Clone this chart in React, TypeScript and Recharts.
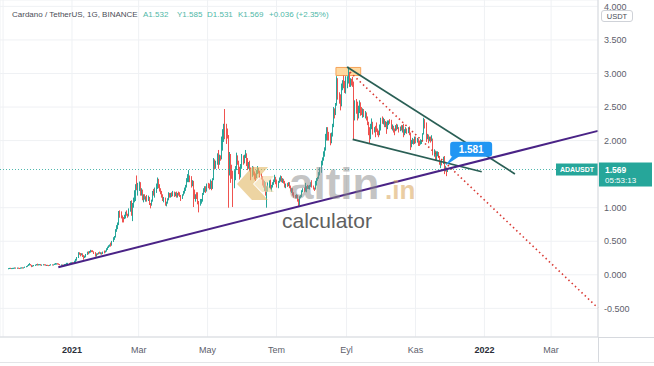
import React from "react";
import {
  ComposedChart,
  Bar,
  XAxis,
  YAxis,
  CartesianGrid,
  ReferenceLine,
  ReferenceArea,
  ReferenceDot,
} from "recharts";

// Daily candles [open, high, low, close], ADA/USDT (Binance).
const nov2020 = [
  [0.093, 0.099, 0.092, 0.0975], [0.0975, 0.103, 0.096, 0.101], [0.101, 0.104, 0.095, 0.0975], [0.0975, 0.101, 0.0965, 0.1],
  [0.1, 0.103, 0.098, 0.1005], [0.1005, 0.104, 0.099, 0.1025], [0.1025, 0.107, 0.1015, 0.1055], [0.1055, 0.106, 0.101, 0.103],
  [0.103, 0.106, 0.101, 0.1045], [0.1045, 0.105, 0.099, 0.101], [0.101, 0.102, 0.098, 0.0995], [0.0995, 0.106, 0.0985, 0.105],
  [0.105, 0.11, 0.103, 0.108], [0.108, 0.112, 0.104, 0.107], [0.107, 0.111, 0.105, 0.109], [0.109, 0.12, 0.108, 0.118],
  [0.118, 0.13, 0.116, 0.127], [0.127, 0.14, 0.123, 0.136], [0.136, 0.158, 0.133, 0.155], [0.155, 0.174, 0.145, 0.156],
  [0.156, 0.16, 0.142, 0.145], [0.145, 0.148, 0.114, 0.129], [0.129, 0.14, 0.126, 0.135], [0.135, 0.146, 0.131, 0.142],
  [0.142, 0.151, 0.139, 0.148], [0.148, 0.16, 0.146, 0.155],
];
const dec2020 = [
  [0.155, 0.166, 0.142, 0.148], [0.148, 0.157, 0.145, 0.155], [0.155, 0.16, 0.15, 0.157], [0.157, 0.158, 0.14, 0.143],
  [0.143, 0.151, 0.141, 0.15], [0.15, 0.156, 0.146, 0.155], [0.155, 0.157, 0.15, 0.152], [0.152, 0.153, 0.141, 0.143],
  [0.143, 0.148, 0.135, 0.147], [0.147, 0.148, 0.14, 0.144], [0.144, 0.145, 0.135, 0.14], [0.14, 0.148, 0.139, 0.147],
  [0.147, 0.155, 0.146, 0.153], [0.153, 0.155, 0.149, 0.152], [0.152, 0.156, 0.15, 0.153], [0.153, 0.165, 0.15, 0.163],
  [0.163, 0.175, 0.156, 0.166], [0.166, 0.17, 0.158, 0.168], [0.168, 0.172, 0.162, 0.165], [0.165, 0.167, 0.155, 0.158],
  [0.158, 0.16, 0.145, 0.148], [0.148, 0.152, 0.141, 0.15], [0.15, 0.151, 0.128, 0.137], [0.137, 0.15, 0.131, 0.148],
  [0.148, 0.16, 0.146, 0.157], [0.157, 0.163, 0.152, 0.16], [0.16, 0.178, 0.158, 0.169], [0.169, 0.178, 0.166, 0.175],
  [0.175, 0.177, 0.167, 0.173], [0.173, 0.183, 0.168, 0.18], [0.18, 0.186, 0.174, 0.181],
];
const jan2021 = [
  [0.181, 0.188, 0.17, 0.175], [0.175, 0.183, 0.168, 0.177], [0.177, 0.21, 0.175, 0.205], [0.205, 0.237, 0.19, 0.223],
  [0.223, 0.265, 0.21, 0.258], [0.258, 0.337, 0.25, 0.32], [0.32, 0.335, 0.3, 0.317], [0.317, 0.325, 0.275, 0.305],
  [0.305, 0.32, 0.29, 0.314], [0.314, 0.318, 0.265, 0.29], [0.29, 0.292, 0.225, 0.268], [0.268, 0.285, 0.25, 0.27],
  [0.27, 0.31, 0.26, 0.302], [0.302, 0.345, 0.298, 0.334], [0.334, 0.35, 0.305, 0.325], [0.325, 0.355, 0.32, 0.348],
  [0.348, 0.372, 0.33, 0.356], [0.356, 0.365, 0.338, 0.352], [0.352, 0.366, 0.34, 0.345], [0.345, 0.348, 0.31, 0.331],
  [0.331, 0.336, 0.27, 0.285], [0.285, 0.318, 0.27, 0.312], [0.312, 0.322, 0.302, 0.31], [0.31, 0.335, 0.305, 0.33],
  [0.33, 0.345, 0.32, 0.325], [0.325, 0.335, 0.305, 0.33], [0.33, 0.332, 0.3, 0.312], [0.312, 0.345, 0.308, 0.341],
  [0.341, 0.362, 0.32, 0.338], [0.338, 0.36, 0.332, 0.357], [0.357, 0.396, 0.345, 0.385],
];
const feb2021 = [
  [0.385, 0.42, 0.37, 0.408], [0.408, 0.44, 0.4, 0.428], [0.428, 0.452, 0.418, 0.445], [0.445, 0.48, 0.42, 0.44],
  [0.44, 0.505, 0.435, 0.498], [0.498, 0.56, 0.49, 0.545], [0.545, 0.578, 0.52, 0.565], [0.565, 0.68, 0.555, 0.668],
  [0.668, 0.74, 0.64, 0.71], [0.71, 0.78, 0.68, 0.76], [0.76, 0.95, 0.74, 0.93], [0.93, 0.96, 0.85, 0.925],
  [0.925, 0.945, 0.84, 0.87], [0.87, 0.885, 0.78, 0.845], [0.845, 0.86, 0.78, 0.835], [0.835, 0.895, 0.83, 0.86],
  [0.86, 0.94, 0.84, 0.925], [0.925, 0.96, 0.88, 0.905], [0.905, 0.91, 0.85, 0.89], [0.89, 0.99, 0.87, 0.96],
  [0.96, 1.1, 0.94, 1.085], [1.085, 1.11, 0.88, 0.93], [0.93, 1.07, 0.8, 1.05], [1.05, 1.15, 1.0, 1.12],
  [1.12, 1.26, 1.08, 1.2], [1.2, 1.35, 1.1, 1.34], [1.34, 1.48, 1.26, 1.33], [1.33, 1.37, 1.18, 1.34],
];
const mar2021 = [
  [1.34, 1.39, 1.25, 1.37], [1.37, 1.38, 1.18, 1.21], [1.21, 1.29, 1.18, 1.26], [1.26, 1.27, 1.11, 1.16],
  [1.16, 1.2, 1.08, 1.18], [1.18, 1.2, 1.12, 1.14], [1.14, 1.17, 1.09, 1.16], [1.16, 1.19, 1.09, 1.12],
  [1.12, 1.18, 1.1, 1.15], [1.15, 1.16, 1.04, 1.06], [1.06, 1.07, 0.99, 1.05], [1.05, 1.12, 1.03, 1.1],
  [1.1, 1.25, 1.09, 1.23], [1.23, 1.28, 1.18, 1.2], [1.2, 1.3, 1.15, 1.28], [1.28, 1.36, 1.22, 1.3],
  [1.3, 1.45, 1.28, 1.38], [1.38, 1.43, 1.29, 1.32], [1.32, 1.35, 1.24, 1.27], [1.27, 1.29, 1.2, 1.23],
  [1.23, 1.25, 1.15, 1.18], [1.18, 1.2, 1.1, 1.12], [1.12, 1.16, 1.08, 1.13], [1.13, 1.15, 1.03, 1.05],
  [1.05, 1.09, 1.02, 1.07], [1.07, 1.14, 1.06, 1.13], [1.13, 1.23, 1.11, 1.2], [1.2, 1.22, 1.15, 1.17],
  [1.17, 1.22, 1.15, 1.2], [1.2, 1.23, 1.16, 1.19], [1.19, 1.25, 1.17, 1.21],
];
const apr2021 = [
  [1.21, 1.24, 1.16, 1.19], [1.19, 1.23, 1.17, 1.2], [1.2, 1.24, 1.15, 1.17], [1.17, 1.22, 1.15, 1.21],
  [1.21, 1.24, 1.18, 1.2], [1.2, 1.23, 1.16, 1.18], [1.18, 1.19, 1.1, 1.14], [1.14, 1.2, 1.13, 1.19],
  [1.19, 1.25, 1.18, 1.24], [1.24, 1.3, 1.21, 1.27], [1.27, 1.34, 1.25, 1.32], [1.32, 1.44, 1.3, 1.42],
  [1.42, 1.5, 1.38, 1.45], [1.45, 1.56, 1.38, 1.46], [1.46, 1.48, 1.38, 1.43], [1.43, 1.47, 1.3, 1.35],
  [1.35, 1.41, 1.32, 1.38], [1.38, 1.4, 1.01, 1.22], [1.22, 1.27, 1.13, 1.16], [1.16, 1.2, 1.09, 1.18],
  [1.18, 1.23, 1.13, 1.14], [1.14, 1.23, 1.05, 1.08], [1.08, 1.1, 0.93, 1.07], [1.07, 1.13, 1.03, 1.09],
  [1.09, 1.13, 1.06, 1.1], [1.1, 1.22, 1.09, 1.21], [1.21, 1.29, 1.19, 1.26], [1.26, 1.32, 1.23, 1.3],
  [1.3, 1.32, 1.22, 1.25], [1.25, 1.36, 1.24, 1.35],
];
const may2021 = [
  [1.35, 1.37, 1.29, 1.34], [1.34, 1.36, 1.27, 1.29], [1.29, 1.42, 1.28, 1.38], [1.38, 1.4, 1.26, 1.29],
  [1.29, 1.44, 1.28, 1.42], [1.42, 1.74, 1.41, 1.68], [1.68, 1.72, 1.57, 1.62], [1.62, 1.7, 1.58, 1.65],
  [1.65, 1.81, 1.64, 1.78], [1.78, 1.86, 1.58, 1.72], [1.72, 1.79, 1.64, 1.76], [1.76, 1.78, 1.7, 1.74],
  [1.74, 2.06, 1.72, 1.88], [1.88, 2.17, 1.85, 2.13], [2.13, 2.25, 1.98, 2.19], [2.19, 2.47, 2.02, 2.15],
  [2.15, 2.25, 1.95, 2.12], [2.12, 2.18, 2.03, 2.08], [2.08, 2.08, 1.0, 1.61], [1.61, 1.83, 1.48, 1.76],
  [1.76, 1.8, 1.37, 1.54], [1.54, 1.64, 1.43, 1.5], [1.5, 1.55, 1.01, 1.34], [1.34, 1.56, 1.29, 1.54],
  [1.54, 1.62, 1.41, 1.6], [1.6, 1.82, 1.56, 1.76], [1.76, 1.78, 1.64, 1.65], [1.65, 1.7, 1.5, 1.55],
  [1.55, 1.61, 1.42, 1.47], [1.47, 1.65, 1.45, 1.64], [1.64, 1.8, 1.58, 1.75],
];
const jun2021 = [
  [1.75, 1.78, 1.64, 1.7], [1.7, 1.79, 1.66, 1.76], [1.76, 1.86, 1.74, 1.8], [1.8, 1.81, 1.62, 1.7],
  [1.7, 1.74, 1.56, 1.6], [1.6, 1.68, 1.58, 1.65], [1.65, 1.7, 1.54, 1.56], [1.56, 1.6, 1.41, 1.54],
  [1.54, 1.62, 1.46, 1.6], [1.6, 1.61, 1.48, 1.52], [1.52, 1.54, 1.42, 1.48], [1.48, 1.51, 1.4, 1.47],
  [1.47, 1.56, 1.44, 1.54], [1.54, 1.62, 1.5, 1.57], [1.57, 1.59, 1.51, 1.53], [1.53, 1.55, 1.45, 1.47],
  [1.47, 1.51, 1.42, 1.46], [1.46, 1.47, 1.33, 1.37], [1.37, 1.42, 1.3, 1.36], [1.36, 1.4, 1.25, 1.37],
  [1.37, 1.38, 1.18, 1.21], [1.21, 1.32, 1.0, 1.28], [1.28, 1.38, 1.24, 1.33], [1.33, 1.41, 1.29, 1.38],
  [1.38, 1.42, 1.27, 1.3], [1.3, 1.34, 1.24, 1.31], [1.31, 1.38, 1.3, 1.37], [1.37, 1.42, 1.34, 1.4],
  [1.4, 1.49, 1.38, 1.45], [1.45, 1.46, 1.35, 1.4],
];
const jul2021 = [
  [1.4, 1.42, 1.3, 1.32], [1.32, 1.4, 1.29, 1.39], [1.39, 1.45, 1.37, 1.42], [1.42, 1.48, 1.39, 1.45],
  [1.45, 1.47, 1.38, 1.4], [1.4, 1.44, 1.37, 1.42], [1.42, 1.43, 1.36, 1.38], [1.38, 1.4, 1.3, 1.33],
  [1.33, 1.36, 1.29, 1.35], [1.35, 1.37, 1.31, 1.33], [1.33, 1.38, 1.32, 1.37], [1.37, 1.38, 1.29, 1.31],
  [1.31, 1.33, 1.24, 1.26], [1.26, 1.29, 1.22, 1.28], [1.28, 1.29, 1.18, 1.2], [1.2, 1.23, 1.15, 1.17],
  [1.17, 1.19, 1.14, 1.16], [1.16, 1.2, 1.14, 1.18], [1.18, 1.19, 1.09, 1.11], [1.11, 1.13, 1.02, 1.05],
  [1.05, 1.17, 1.03, 1.16], [1.16, 1.19, 1.14, 1.17], [1.17, 1.26, 1.16, 1.25], [1.25, 1.29, 1.23, 1.27],
  [1.27, 1.3, 1.23, 1.25], [1.25, 1.37, 1.24, 1.29], [1.29, 1.32, 1.23, 1.31], [1.31, 1.34, 1.28, 1.3],
  [1.3, 1.33, 1.28, 1.31], [1.31, 1.34, 1.27, 1.32], [1.32, 1.38, 1.31, 1.34],
];
const aug2021 = [
  [1.34, 1.41, 1.3, 1.31], [1.31, 1.33, 1.27, 1.29], [1.29, 1.3, 1.25, 1.28], [1.28, 1.4, 1.27, 1.39],
  [1.39, 1.44, 1.33, 1.43], [1.43, 1.46, 1.4, 1.45], [1.45, 1.53, 1.43, 1.51], [1.51, 1.6, 1.48, 1.56],
  [1.56, 1.7, 1.52, 1.68], [1.68, 1.75, 1.63, 1.72], [1.72, 1.84, 1.7, 1.81], [1.81, 1.9, 1.76, 1.86],
  [1.86, 2.1, 1.85, 2.05], [2.05, 2.2, 2.0, 2.15], [2.15, 2.2, 2.0, 2.08], [2.08, 2.13, 2.0, 2.06],
  [2.06, 2.11, 1.93, 1.97], [1.97, 2.12, 1.96, 2.1], [2.1, 2.25, 2.06, 2.23], [2.23, 2.5, 2.2, 2.46],
  [2.46, 2.48, 2.33, 2.4], [2.4, 2.56, 2.38, 2.54], [2.54, 2.96, 2.52, 2.87], [2.87, 2.93, 2.61, 2.7],
  [2.7, 2.72, 2.55, 2.64], [2.64, 2.69, 2.45, 2.53], [2.53, 2.85, 2.51, 2.78], [2.78, 2.9, 2.75, 2.86],
  [2.86, 2.97, 2.78, 2.8], [2.8, 2.89, 2.71, 2.76], [2.76, 2.96, 2.7, 2.9],
];
const sep2021 = [
  [2.9, 2.96, 2.78, 2.92], [2.92, 3.1, 2.85, 2.95], [2.95, 3.02, 2.8, 2.86], [2.86, 2.93, 2.8, 2.88],
  [2.88, 2.92, 2.82, 2.85], [2.85, 2.95, 2.8, 2.82], [2.82, 2.88, 2.02, 2.38], [2.38, 2.6, 2.3, 2.55],
  [2.55, 2.62, 2.4, 2.5], [2.5, 2.58, 2.3, 2.37], [2.37, 2.52, 2.33, 2.5], [2.5, 2.6, 2.41, 2.55],
  [2.55, 2.57, 2.37, 2.45], [2.45, 2.5, 2.38, 2.42], [2.42, 2.48, 2.34, 2.45], [2.45, 2.47, 2.35, 2.37],
  [2.37, 2.44, 2.33, 2.38], [2.38, 2.42, 2.3, 2.32], [2.32, 2.36, 2.23, 2.25], [2.25, 2.28, 2.08, 2.12],
  [2.12, 2.2, 1.96, 2.04], [2.04, 2.25, 2.02, 2.23], [2.23, 2.33, 2.17, 2.27], [2.27, 2.28, 2.09, 2.15],
  [2.15, 2.2, 2.12, 2.18], [2.18, 2.22, 2.05, 2.16], [2.16, 2.27, 2.13, 2.14], [2.14, 2.18, 2.08, 2.1],
  [2.1, 2.15, 2.05, 2.09], [2.09, 2.24, 2.08, 2.22],
];
const oct2021 = [
  [2.22, 2.34, 2.15, 2.33], [2.33, 2.36, 2.25, 2.28], [2.28, 2.34, 2.24, 2.31], [2.31, 2.32, 2.2, 2.24],
  [2.24, 2.29, 2.2, 2.26], [2.26, 2.28, 2.1, 2.19], [2.19, 2.3, 2.17, 2.27], [2.27, 2.3, 2.23, 2.28],
  [2.28, 2.32, 2.25, 2.27], [2.27, 2.31, 2.17, 2.19], [2.19, 2.24, 2.15, 2.21], [2.21, 2.22, 2.12, 2.16],
  [2.16, 2.18, 2.08, 2.15], [2.15, 2.23, 2.14, 2.21], [2.21, 2.25, 2.15, 2.18], [2.18, 2.24, 2.17, 2.19],
  [2.19, 2.2, 2.12, 2.16], [2.16, 2.21, 2.14, 2.19], [2.19, 2.23, 2.15, 2.18], [2.18, 2.23, 2.12, 2.2],
  [2.2, 2.25, 2.05, 2.12], [2.12, 2.17, 2.08, 2.13], [2.13, 2.2, 2.11, 2.17], [2.17, 2.18, 2.1, 2.14],
  [2.14, 2.2, 2.11, 2.18], [2.18, 2.21, 2.08, 2.1], [2.1, 2.12, 1.86, 1.92], [1.92, 2.01, 1.9, 1.97],
  [1.97, 2.04, 1.95, 2.01], [2.01, 2.02, 1.94, 1.97], [1.97, 2.06, 1.95, 2.03],
];
const nov2021 = [
  [2.03, 2.06, 1.96, 1.99], [1.99, 2.04, 1.97, 2.01], [2.01, 2.03, 1.92, 1.98], [1.98, 2.0, 1.92, 1.95],
  [1.95, 2.02, 1.94, 1.98], [1.98, 2.01, 1.95, 2.0], [2.0, 2.11, 1.99, 2.1], [2.1, 2.34, 2.09, 2.28],
  [2.28, 2.32, 2.18, 2.23], [2.23, 2.27, 1.98, 2.05], [2.05, 2.1, 2.02, 2.07], [2.07, 2.09, 1.96, 2.01],
  [2.01, 2.06, 1.99, 2.04], [2.04, 2.06, 1.97, 2.01], [2.01, 2.08, 1.99, 2.02], [2.02, 2.03, 1.78, 1.82],
  [1.82, 1.87, 1.76, 1.82], [1.82, 1.85, 1.7, 1.73], [1.73, 1.84, 1.71, 1.8], [1.8, 1.84, 1.77, 1.81],
  [1.81, 1.83, 1.74, 1.76], [1.76, 1.77, 1.64, 1.65], [1.65, 1.7, 1.59, 1.68], [1.68, 1.72, 1.63, 1.67],
  [1.67, 1.76, 1.65, 1.74], [1.74, 1.77, 1.5, 1.57], [1.57, 1.62, 1.54, 1.59], [1.59, 1.6, 1.47, 1.53],
  [1.532, 1.585, 1.531, 1.569],
];

// Day index of each month's first candle (0 = 1 Jan 2021)
const monthStarts = [-57, -31, 0, 31, 59, 90, 120, 151, 181, 212, 243, 273, 304];
const monthCandles = [nov2020, dec2020, jan2021, feb2021, mar2021, apr2021, may2021, jun2021, jul2021, aug2021, sep2021, oct2021, nov2021];

// Axis ticks
const xTicks = [-61, 0, 59, 120, 181, 243, 304, 365, 424];
const xTickLabels = ["", "2021", "Mar", "May", "Tem", "Eyl", "Kas", "2022", "Mar"];
const yTicks = [-0.5, 0, 0.5, 1, 2, 2.5, 3, 3.5, 4];

// Drawings (day, price)
const upperChannel = [{ x: 243.4, y: 3.097 }, { x: 392, y: 1.502 }];
const lowerChannel = [{ x: 248.4, y: 2.019 }, { x: 362.6, y: 1.536 }];
const supportLine = [{ x: -12.1, y: 0.112 }, { x: 465.5, y: 2.145 }];
const projection = [{ x: 246, y: 3.02 }, { x: 465.5, y: -0.495 }];
const topBox = { x1: 233.6, x2: 255.5, y1: 2.97, y2: 3.09 };
const calloutPoint = { x: 332, y: 1.581, text: "1.581" };
const lastPrice = 1.569;
const countdown = "05:53:13";
const header = {
  title: "Cardano / TetherUS, 1G, BINANCE",
  values: ["A1.532", "Y1.585", "D1.531", "K1.569", "+0.036 (+2.35%)"],
};

const data = monthCandles.flatMap((arr, m) =>
  arr.map((c, i) => ({
    t: monthStarts[m] + i,
    o: c[0],
    h: c[1],
    l: c[2],
    c: c[3],
    range: [c[2], c[1]],
  }))
);

const UP = "#26a69a";
const DOWN = "#ef5350";
const FONT = "'Liberation Sans', Arial, sans-serif";

const Candle = (props: any) => {
  const { x, y, width, height } = props;
  const p = props.payload || props;
  if (x == null || y == null) return null;
  const { o, h, l, c } = p;
  const cx = Math.round(x + width / 2) + 0.5;
  const k = h - l > 0 ? height / (h - l) : 0;
  const yO = y + (h - o) * k;
  const yC = y + (h - c) * k;
  const color = c >= o ? UP : DOWN;
  const top = Math.min(yO, yC);
  const bh = Math.max(Math.abs(yO - yC), 1);
  return (
    <g>
      <line x1={cx} x2={cx} y1={y} y2={y + height} stroke={color} strokeWidth={1} />
      <rect x={cx - 0.5} y={top} width={1} height={bh} fill={color} />
    </g>
  );
};

const PriceTag = (props: any) => {
  const vb = props.viewBox || {};
  const right = vb.x + vb.width;
  const y = vb.y;
  return (
    <g fontFamily={FONT}>
      <rect x={right - 42} y={y - 6} width={42} height={12} fill={UP} />
      <text x={right - 21} y={y + 2.7} textAnchor="middle" fill="#fff" fontSize={7} fontWeight="bold">
        ADAUSDT
      </text>
      <rect x={right + 1} y={y - 7} width={53} height={24} fill={UP} />
      <text x={right + 7} y={y + 3.3} fill="#fff" fontSize={8.5} fontWeight="bold">
        {lastPrice.toFixed(3)}
      </text>
      <text x={right + 7} y={y + 13} fill="#fff" fontSize={8}>
        {countdown}
      </text>
    </g>
  );
};

const Callout = (props: any) => {
  const { cx, cy } = props;
  if (cx == null || cy == null) return null;
  const bx = cx + 3;
  const by = cy - 27;
  return (
    <g fontFamily={FONT}>
      <path d={`M${cx - 2},${cy - 3} L${bx + 4},${by + 12} L${bx + 13},${by + 12} Z`} fill="#2196f3" />
      <rect x={bx} y={by} width={42} height={15} rx={3} fill="#2196f3" />
      <text x={bx + 21} y={by + 11} textAnchor="middle" fill="#fff" fontSize={10} fontWeight="bold">
        {calloutPoint.text}
      </text>
    </g>
  );
};

const XTick = (props: any) => {
  const { x, y, payload } = props;
  const idx = xTicks.indexOf(payload.value);
  const label = idx >= 0 ? xTickLabels[idx] : "";
  const isYear = /^\d{4}$/.test(label);
  return (
    <text x={x} y={y + 8} textAnchor="middle" fontSize={9} fontFamily={FONT} fill={isYear ? "#2a2e39" : "#5d606b"} fontWeight={isYear ? "bold" : "normal"}>
      {label}
    </text>
  );
};

export default function App() {
  return (
    <div style={{ position: "absolute", left: 0, top: 0, width: 654, height: 366, background: "#fff", overflow: "hidden" }}>
      <ComposedChart width={654} height={366} data={data} margin={{ top: 0, right: 0, left: 0, bottom: 0 }}>
        <CartesianGrid stroke="#eff1f4" strokeWidth={1} />
        <XAxis
          dataKey="t"
          type="number"
          domain={[-63.7, 465.5]}
          allowDataOverflow
          ticks={xTicks}
          interval={0}
          height={29}
          tickLine={false}
          axisLine={{ stroke: "#d6d9de" }}
          tick={<XTick />}
        />
        <YAxis
          orientation="right"
          type="number"
          domain={[-0.927, 4.095]}
          allowDataOverflow
          ticks={yTicks}
          interval={0}
          width={56}
          tickLine={false}
          tickSize={6}
          tickMargin={0}
          axisLine={{ stroke: "#d6d9de" }}
          tickFormatter={(v: number) => v.toFixed(3)}
          tick={{ fontSize: 9, fill: "#5d606b", fontFamily: FONT, textAnchor: "start" }}
        />
        <Bar dataKey="range" shape={<Candle />} isAnimationActive={false} barSize={1} />
        <ReferenceLine y={lastPrice} stroke={UP} strokeOpacity={0.8} strokeDasharray="1 2" strokeWidth={1} label={<PriceTag />} />
        <ReferenceArea
          x1={topBox.x1}
          x2={topBox.x2}
          y1={topBox.y1}
          y2={topBox.y2}
          fill="#ffcc80"
          fillOpacity={0.75}
          stroke="#f5a35a"
          strokeWidth={1}
        />
        <ReferenceLine segment={projection} stroke="#d93a34" strokeDasharray="1.5 3" strokeWidth={1.6} />
        <ReferenceLine segment={upperChannel} stroke="#2a5f55" strokeWidth={1.7} />
        <ReferenceLine segment={lowerChannel} stroke="#2a5f55" strokeWidth={1.7} />
        <ReferenceLine segment={supportLine} stroke="#4a2386" strokeWidth={2} />
        <ReferenceDot x={calloutPoint.x} y={calloutPoint.y} r={2} shape={<Callout />} ifOverflow="visible" />
      </ComposedChart>

      <svg width={654} height={366} style={{ position: "absolute", left: 0, top: 0, pointerEvents: "none" }}>
        {/* header */}
        <text x={12} y={17} fontSize={8} fontFamily={FONT} fill="#4a4d57">
          {header.title}
        </text>
        {header.values.map((v, i) => (
          <text key={v} x={[143, 177, 207, 238, 269][i]} y={17} fontSize={8} fontFamily={FONT} fill="#4fb8a8">
            {v}
          </text>
        ))}
        {/* USDT unit box */}
        <rect x={601.5} y={10.5} width={31} height={11} rx={2.5} fill="#fff" stroke="#cfd2d8" />
        <text x={617} y={18.8} textAnchor="middle" fontSize={7.5} fontFamily={FONT} fill="#4a4d57">
          USDT
        </text>
        {/* frame lines */}
        <line x1={598.5} x2={598.5} y1={337} y2={362} stroke="#d6d9de" />
        <line x1={598} x2={654} y1={337.5} y2={337.5} stroke="#d6d9de" />
        <line x1={0} x2={654} y1={362.5} y2={362.5} stroke="#e3e5e8" />
        {/* watermark */}
        <g opacity={0.6}>
          <path d="M252,167 L268,167 L253,184 L268,200 L252,200 L237,184 Z" fill="#e2b865" />
          <path d="M262,176 L274,176 L266,184 L274,192 L262,192 L254,184 Z" fill="#f1d9a6" />
        </g>
        <text x={289} y={199} fontSize={44} fontWeight="bold" fontFamily={FONT} fill="#8a8a8a" opacity={0.5}>
          altin
        </text>
        <text x={385} y={199} fontSize={26} fontWeight="bold" fontFamily={FONT} fill="#d9a65a" opacity={0.55}>
          .in
        </text>
        <text x={282} y={228} fontSize={21} fontFamily={FONT} fill="#606060">
          calculator
        </text>
      </svg>
    </div>
  );
}
